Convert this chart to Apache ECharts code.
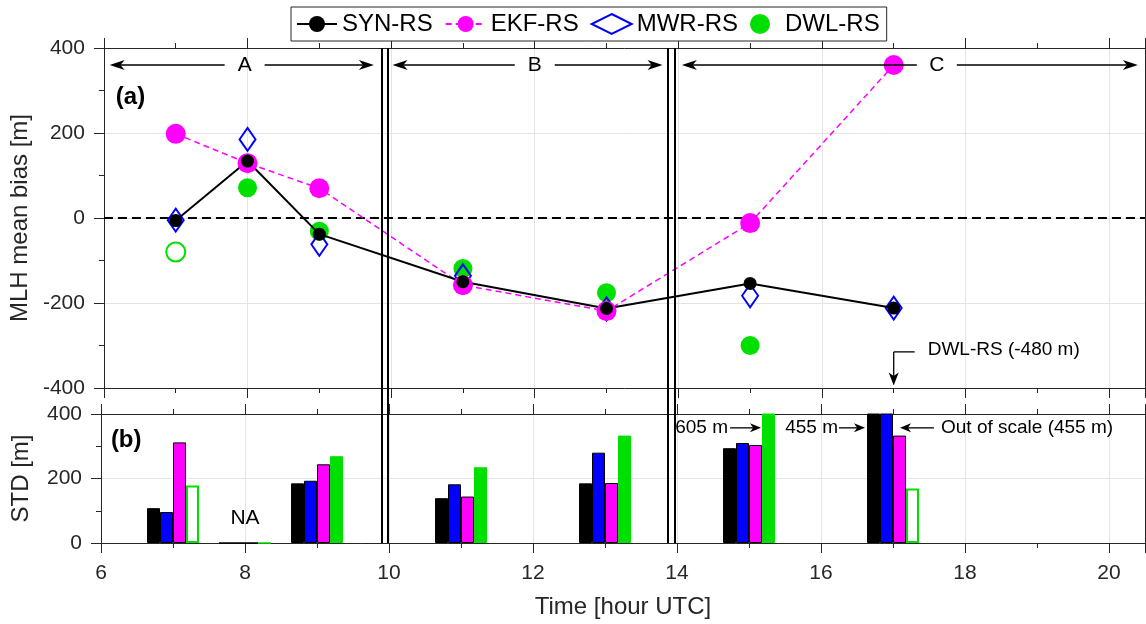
<!DOCTYPE html>
<html>
<head>
<meta charset="utf-8">
<title>MLH mean bias and STD</title>
<script src="https://cdn.jsdelivr.net/npm/echarts@6/dist/echarts.min.js"></script>
<style>
  html, body { margin: 0; padding: 0; background: #ffffff; }
  #main { width: 1146px; height: 624px; }
</style>
</head>
<body>
<div id="main"></div>
<script>
// Radiosonde launch hours (UTC)
const hours = [7, 8, 9, 11, 13, 15, 17];

// (a) Mean MLH bias with respect to the radiosondes [m]
const synBias = [-6, 134, -38, -150, -213, -154, -212];
const ekfBias = [198, 129, 70, -158, -219, -12, 360];
const mwrBias = [-5, 185, -62, -136, -214, -183, -212];
const dwlBias = [-80, 71, -31, -119, -176, -300, -480];

// (b) Standard deviation [m]; no statistics at 08 UTC (NA)
const synStd = [108, 0, 185, 139, 185, 294, 455];
const mwrStd = [96, 0, 193, 182, 280, 310, 455];
const ekfStd = [312, 0, 244, 144, 186, 304, 333];
const dwlStd = [178, 0, 269, 235, 333, 605, 169];

// Hours with only a few DWL cases (drawn hollow)
const dwlFewCases = [7, 17];

// Axis ticks
const hourTicks = [6, 8, 10, 12, 14, 16, 18, 20];
const biasTicks = [-400, -200, 0, 200, 400];
const stdTicks = [0, 200, 400];
const HOUR_END = 20.5;

// Periods A, B, C separated by double lines
const periodNames = ['A', 'B', 'C'];
const periodFrom = [6.08, 10.02, 14.05];
const periodTo = [9.76, 13.78, 20.4];
const periodLabelAt = [7.96, 12.0, 17.6];
const periodLevel = 360;
const separatorHours = [9.87, 9.96, 13.86, 13.95];

const FONT = '"Liberation Sans", Arial, Helvetica, sans-serif';
const INK = '#262626';
const GRID_GRAY = '#e4e4e4';
const BLACK = '#000000';
const BLUE = '#0000ff';
const MAGENTA = '#ff00ff';
const GREEN = '#00e000';

function hourAxis(gridIndex, position, withLabels, name) {
  return {
    type: 'value', gridIndex: gridIndex, position: position,
    min: hourTicks[0], max: HOUR_END, interval: hourTicks[1] - hourTicks[0],
    axisLine: { show: true, onZero: false, lineStyle: { color: INK, width: 1 } },
    axisTick: { show: true, inside: false, length: 10, lineStyle: { color: INK, width: 1 } },
    minorTick: { show: true, splitNumber: 2, length: 5, lineStyle: { color: INK, width: 1 } },
    axisLabel: {
      show: withLabels, margin: 20, fontSize: 21, color: INK, fontFamily: FONT,
      showMinLabel: true, showMaxLabel: false
    },
    splitLine: { show: position === 'bottom', lineStyle: { color: GRID_GRAY, width: 1 } },
    minorSplitLine: { show: false },
    name: name || '', nameLocation: 'middle', nameGap: 52,
    nameTextStyle: { fontSize: 24, color: INK, fontFamily: FONT }
  };
}

function valueAxis(gridIndex, position, ticks, name) {
  const left = position === 'left';
  return {
    type: 'value', gridIndex: gridIndex, position: position,
    min: ticks[0], max: ticks[ticks.length - 1], interval: ticks[1] - ticks[0],
    axisLine: { show: true, onZero: false, lineStyle: { color: INK, width: 1 } },
    axisTick: { show: true, inside: false, length: 10, lineStyle: { color: INK, width: 1 } },
    minorTick: { show: true, splitNumber: 2, length: 5, lineStyle: { color: INK, width: 1 } },
    axisLabel: { show: left, margin: 19, fontSize: 21, color: INK, fontFamily: FONT,
                 showMinLabel: true, showMaxLabel: true },
    splitLine: { show: left, lineStyle: { color: GRID_GRAY, width: 1 } },
    minorSplitLine: { show: false },
    name: left ? name : '', nameLocation: 'middle', nameGap: 68, nameRotate: 90,
    nameTextStyle: { fontSize: 24, color: INK, fontFamily: FONT }
  };
}

const pairs = (vals) => hours.map((h, i) => [h, vals[i]]);
const hollowGreen = { color: '#ffffff', borderColor: GREEN, borderWidth: 2, opacity: 1 };

function stdSeries(name, vals, color, borderColor) {
  return {
    type: 'bar', name: name, xAxisIndex: 2, yAxisIndex: 2,
    barWidth: 13, barGap: '0%', clip: true, silent: true,
    data: hours.map((h, i) => {
      const item = { value: [h, vals[i]] };
      if (color === GREEN && dwlFewCases.includes(h)) item.itemStyle = hollowGreen;
      return item;
    }),
    itemStyle: { color: color, borderColor: borderColor, borderWidth: 1, opacity: 1 }
  };
}

const option = {
  animation: false,
  backgroundColor: '#ffffff',
  textStyle: { fontFamily: FONT },
  grid: [
    { left: 101, top: 48, width: 1044, height: 340 },
    { left: 101, top: 414, width: 1044, height: 129 }
  ],
  xAxis: [
    hourAxis(0, 'bottom', false),
    hourAxis(0, 'top', false),
    hourAxis(1, 'bottom', true, 'Time [hour UTC]'),
    hourAxis(1, 'top', false)
  ],
  yAxis: [
    valueAxis(0, 'left', biasTicks, 'MLH mean bias [m]'),
    valueAxis(0, 'right', biasTicks, ''),
    valueAxis(1, 'left', stdTicks, 'STD [m]'),
    valueAxis(1, 'right', stdTicks, '')
  ],
  legend: {
    data: [
      'SYN-RS',
      'EKF-RS',
      { name: 'MWR-RS', itemStyle: { color: 'rgba(0,0,0,0)', borderColor: BLUE, borderWidth: 2, opacity: 1 } },
      { name: 'DWL-RS', itemStyle: { color: GREEN, opacity: 1 } }
    ],
    left: 291, top: 7, padding: [5, 7, 5, 5],
    itemWidth: 40, itemHeight: 20, itemGap: 12,
    borderColor: INK, borderWidth: 1, backgroundColor: '#ffffff',
    selectedMode: false,
    textStyle: { fontSize: 24, color: '#000000', fontFamily: FONT }
  },
  series: [
    {
      type: 'scatter', name: 'DWL-RS', xAxisIndex: 0, yAxisIndex: 0, clip: true,
      symbol: 'circle', symbolSize: 19,
      itemStyle: { color: GREEN, opacity: 1 },
      data: hours.map((h, i) => {
        const item = { value: [h, dwlBias[i]] };
        if (dwlFewCases.includes(h)) item.itemStyle = hollowGreen;
        return item;
      }),
      markLine: {
        silent: true, z: 1, symbol: 'none',
        label: { show: false },
        lineStyle: { color: '#000000', width: 2, type: [9, 5], opacity: 1 },
        data: [{ yAxis: 0 }]
      }
    },
    {
      type: 'line', name: 'EKF-RS', xAxisIndex: 0, yAxisIndex: 0, clip: true,
      symbol: 'circle', symbolSize: 20, showSymbol: true, showAllSymbol: true,
      itemStyle: { color: MAGENTA, opacity: 1 },
      lineStyle: { color: MAGENTA, width: 1.5, type: [6, 4] },
      data: pairs(ekfBias)
    },
    {
      type: 'scatter', name: 'MWR-RS', xAxisIndex: 0, yAxisIndex: 0, clip: true,
      symbol: 'diamond', symbolSize: [16, 23],
      itemStyle: { color: 'rgba(0,0,0,0)', borderColor: BLUE, borderWidth: 2, opacity: 1 },
      data: pairs(mwrBias)
    },
    {
      type: 'line', name: 'SYN-RS', xAxisIndex: 0, yAxisIndex: 0, clip: true,
      symbol: 'circle', symbolSize: 13, showSymbol: true, showAllSymbol: true,
      itemStyle: { color: BLACK, opacity: 1 },
      lineStyle: { color: BLACK, width: 2 },
      data: pairs(synBias)
    },
    stdSeries('SYN-RS STD', synStd, BLACK, BLACK),
    stdSeries('MWR-RS STD', mwrStd, BLUE, BLACK),
    stdSeries('EKF-RS STD', ekfStd, MAGENTA, BLACK),
    stdSeries('DWL-RS STD', dwlStd, GREEN, GREEN)
  ]
};

const chart = echarts.init(document.getElementById('main'), null, { renderer: 'canvas' });
chart.setOption(option);

// Annotations placed through the axes' own coordinate conversion
const pa = (x, y) => chart.convertToPixel({ xAxisIndex: 0, yAxisIndex: 0 }, [x, y]);
const pb = (x, y) => chart.convertToPixel({ xAxisIndex: 2, yAxisIndex: 2 }, [x, y]);

function seg(x1, y1, x2, y2, w) {
  return { type: 'line', silent: true, z: 60,
           shape: { x1: x1, y1: y1, x2: x2, y2: y2 },
           style: { stroke: '#000000', lineWidth: w || 1.3 } };
}
function head(tx, ty, dx, dy, len, half) {
  const nx = -dy, ny = dx;
  const bx = tx - dx * len, by = ty - dy * len;
  const cx = tx - dx * (len * 0.72), cy = ty - dy * (len * 0.72);
  return { type: 'polygon', silent: true, z: 61,
           shape: { points: [[tx, ty], [bx + nx * half, by + ny * half], [cx, cy], [bx - nx * half, by - ny * half]] },
           style: { fill: '#000000' } };
}
function label(x, y, text, size, align, bold) {
  return { type: 'text', silent: true, z: 62, x: x, y: y,
           style: { text: text, fontSize: size, fontFamily: FONT, fontWeight: bold ? 'bold' : 'normal',
                    fill: '#000000', align: align || 'center', verticalAlign: 'middle' } };
}

const g = [];

// Double separators running through both panels
separatorHours.forEach((h) => {
  const x = Math.round(pa(h, 0)[0]);
  const top = pa(h, biasTicks[biasTicks.length - 1])[1];
  const bottom = pb(h, stdTicks[0])[1];
  g.push(seg(x, top, x, bottom, 2));
});

// Period arrows with their names
periodNames.forEach((name, i) => {
  const y = pa(0, periodLevel)[1];
  const x0 = pa(periodFrom[i], 0)[0];
  const x1 = pa(periodTo[i], 0)[0];
  const xc = pa(periodLabelAt[i], 0)[0];
  g.push(seg(x0 + 4, y, xc - 20, y, 1.5));
  g.push(seg(xc + 20, y, x1 - 4, y, 1.5));
  g.push(head(x0, y, -1, 0, 15, 5));
  g.push(head(x1, y, 1, 0, 15, 5));
  g.push(label(xc, y, name, 21));
});

// Panel tags
const tagA = pa(6.37, 285);
g.push(label(tagA[0], tagA[1], '(a)', 24, 'center', true));
const tagB = pb(6.35, 317);
g.push(label(tagB[0], tagB[1], '(b)', 24, 'center', true));

// NA at 08 UTC
const na = pb(8, 77);
g.push(label(na[0], na[1], 'NA', 21));

// DWL-RS at 17 UTC is below the bias axis
const dwlCorner = pa(17, -315);
const dwlTip = pa(17, -394);
g.push(seg(dwlCorner[0], dwlCorner[1], dwlCorner[0] + 21, dwlCorner[1], 1.3));
g.push(seg(dwlCorner[0], dwlCorner[1], dwlTip[0], dwlTip[1] - 8, 1.3));
g.push(head(dwlTip[0], dwlTip[1], 0, 1, 13, 5));
g.push(label(dwlCorner[0] + 34, dwlCorner[1] - 2, 'DWL-RS (' + dwlBias[hours.indexOf(17)] + ' m)', 19, 'left'));

// STD values beyond the axis top
const noteY = pb(0, 357)[1];
const x15 = pb(15, 0)[0];
const x17 = pb(17, 0)[0];
g.push(seg(x15 - 19, noteY, x15 + 6, noteY, 1.3));
g.push(head(x15 + 12, noteY, 1, 0, 11, 4.5));
g.push(label(x15 - 21, noteY, dwlStd[hours.indexOf(15)] + ' m', 19, 'right'));
g.push(seg(x17 - 54, noteY, x17 - 34, noteY, 1.3));
g.push(head(x17 - 28, noteY, 1, 0, 11, 4.5));
g.push(label(x17 - 55, noteY, synStd[hours.indexOf(17)] + ' m', 19, 'right'));
g.push(seg(x17 + 12, noteY, x17 + 41, noteY, 1.3));
g.push(head(x17 + 7, noteY, -1, 0, 11, 4.5));
g.push(label(x17 + 48, noteY, 'Out of scale (' + mwrStd[hours.indexOf(17)] + ' m)', 19, 'left'));

chart.setOption({ graphic: { elements: g } });
</script>
</body>
</html>
